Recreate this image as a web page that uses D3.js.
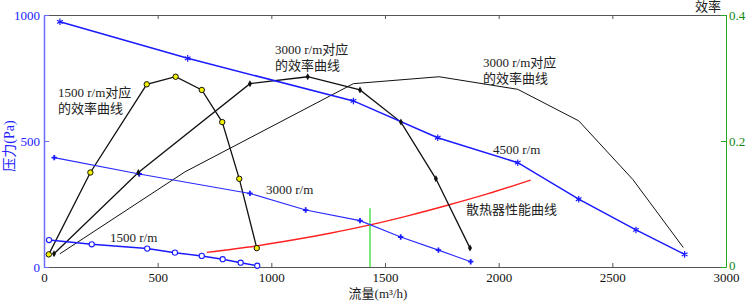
<!DOCTYPE html>
<html>
<head>
<meta charset="utf-8">
<script src="https://cdn.jsdelivr.net/npm/d3@7"></script>
<style>
  body { margin: 0; background: #fff; }
  text { font-family: "Liberation Serif", "Noto Sans CJK SC", serif; }
</style>
</head>
<body>
<div id="chart-area"></div>
<script>

// SVG Size
var width = 746,
    height = 302;

// Pressure curves (flow m3/h, pressure Pa)
var p4500 = [[70, 973], [632, 828], [1361, 659], [1732, 513], [2084, 414], [2352, 269], [2604, 147], [2818, 50]];
var p3000 = [[45, 434], [419, 369], [906, 292], [1151, 226], [1390, 184], [1569, 119], [1735, 67], [1877, 21]];
var p1500 = [[22, 107], [210, 90], [454, 73], [576, 57], [694, 44], [786, 31], [865, 17], [938, 5]];

// Efficiency curves (flow m3/h, efficiency)
var e1500 = [[21, 0.020], [204, 0.150], [452, 0.290], [579, 0.302], [694, 0.281], [784, 0.230], [859, 0.140], [936, 0.030]];
var e3000 = [[44, 0.021], [415, 0.150], [906, 0.291], [1160, 0.302], [1390, 0.281], [1570, 0.230], [1724, 0.140], [1874, 0.030]];
var e4500 = [[70, 0.021], [620, 0.151], [1361, 0.291], [1738, 0.302], [2084, 0.282], [2352, 0.232], [2590, 0.139], [2812, 0.031]];

// Heat sink resistance curve
var sink = [[716, 58], [936, 84], [1100, 108], [1258, 134], [1434, 167], [1600, 203], [1771, 244], [1950, 290], [2141, 345]];

// Operating point marker
var opFlow = 1434,
    opTop = 233;

var xTicks = [0, 500, 1000, 1500, 2000, 2500, 3000];
var yTicks = [0, 500, 1000];
var effTicks = [0, 0.2, 0.4];

var svg = d3.select("#chart-area").append("svg")
    .attr("width", width)
    .attr("height", height);

// Plot box
var mLeft = 44, mRight = 726, mTop = 15, mBottom = 267;

var x = d3.scaleLinear().domain([0, 3000]).range([mLeft, mRight]);
var y = d3.scaleLinear().domain([0, 1000]).range([mBottom, mTop]);
var yEff = d3.scaleLinear().domain([0, 0.4]).range([mBottom, mTop]);

// Frame: top line with inward ticks
svg.append("g")
    .attr("transform", "translate(0," + mTop + ")")
    .call(d3.axisTop(x).tickValues(xTicks).tickSizeInner(-4).tickSizeOuter(0).tickFormat(""))
    .call(function(g) { g.selectAll("line, path").attr("stroke", "#555"); });

// Bottom axis
svg.append("g")
    .attr("transform", "translate(0," + mBottom + ")")
    .call(d3.axisBottom(x).tickValues(xTicks).tickSizeInner(-4).tickSizeOuter(0).tickPadding(6)
      .tickFormat(d3.format("d")))
    .call(function(g) {
      g.selectAll("line, path").attr("stroke", "#555");
      g.selectAll("text").attr("font-size", 13).attr("fill", "#111")
        .attr("font-family", "Liberation Serif");
    });

// Left axis (pressure)
svg.append("g")
    .attr("transform", "translate(" + mLeft + ",0)")
    .call(d3.axisLeft(y).tickValues(yTicks).tickSizeInner(-5).tickSizeOuter(0).tickPadding(4)
      .tickFormat(d3.format("d")))
    .call(function(g) {
      g.select("path").attr("stroke", "#6b6bff").attr("stroke-width", 1.5);
      g.selectAll("line").attr("stroke", "#6b6bff");
      g.selectAll("text").attr("font-size", 13).attr("fill", "#2222ff")
        .attr("font-family", "Liberation Serif");
    });

// Right axis (efficiency)
svg.append("g")
    .attr("transform", "translate(" + mRight + ",0)")
    .call(d3.axisRight(yEff).tickValues(effTicks).tickSizeInner(-5).tickSizeOuter(0).tickPadding(3)
      .tickFormat(function(d){ return d === 0 ? "0" : d3.format(".1f")(d); }))
    .call(function(g) {
      g.selectAll("line, path").attr("stroke", "#22aa22");
      g.selectAll("text").attr("font-size", 13).attr("fill", "#118811")
        .attr("font-family", "Liberation Serif")
        .attr("dy", function(d){ return d === 0 ? "0.18em" : "0.32em"; });
    });

var pLine = d3.line().x(function(d){ return x(d[0]); }).y(function(d){ return y(d[1]); });
var eLine = d3.line().x(function(d){ return x(d[0]); }).y(function(d){ return yEff(d[1]); });
var sinkLine = d3.line().curve(d3.curveMonotoneX)
    .x(function(d){ return x(d[0]); }).y(function(d){ return y(d[1]); });

// Heat sink curve and operating line
svg.append("path").attr("d", sinkLine(sink))
    .attr("fill", "none").attr("stroke", "#ff2020").attr("stroke-width", 1.4);

svg.append("line")
    .attr("x1", x(opFlow)).attr("x2", x(opFlow))
    .attr("y1", y(0)).attr("y2", y(opTop))
    .attr("stroke", "#33dd33").attr("stroke-width", 1.3);

// Efficiency curves
svg.append("path").attr("d", eLine(e4500))
    .attr("fill", "none").attr("stroke", "#111").attr("stroke-width", 1);
svg.append("path").attr("d", eLine(e3000))
    .attr("fill", "none").attr("stroke", "#111").attr("stroke-width", 1.3);
svg.append("path").attr("d", eLine(e1500))
    .attr("fill", "none").attr("stroke", "#111").attr("stroke-width", 1.3);

// Pressure curves
svg.append("path").attr("d", pLine(p4500))
    .attr("fill", "none").attr("stroke", "#1a1aff").attr("stroke-width", 1.5);
svg.append("path").attr("d", pLine(p3000))
    .attr("fill", "none").attr("stroke", "#2a2aff").attr("stroke-width", 1.1);
svg.append("path").attr("d", pLine(p1500))
    .attr("fill", "none").attr("stroke", "#1a1aff").attr("stroke-width", 1.5);

// Markers
var star = d3.symbol().type(d3.symbolAsterisk).size(30);
var plus = d3.symbol().type(d3.symbolCross).size(16);
var diamond = d3.symbol().type(d3.symbolDiamond).size(14);

svg.selectAll(".m4500").data(p4500).enter().append("path")
    .attr("class", "m4500")
    .attr("d", star)
    .attr("transform", function(d){ return "translate(" + x(d[0]) + "," + y(d[1]) + ")"; })
    .attr("fill", "none").attr("stroke", "#1a1aff").attr("stroke-width", 1.2);

svg.selectAll(".m3000").data(p3000).enter().append("path")
    .attr("class", "m3000")
    .attr("d", plus)
    .attr("transform", function(d){ return "translate(" + x(d[0]) + "," + y(d[1]) + ")"; })
    .attr("fill", "#1a1aff");

svg.selectAll(".m1500").data(p1500).enter().append("circle")
    .attr("class", "m1500")
    .attr("cx", function(d){ return x(d[0]); })
    .attr("cy", function(d){ return y(d[1]); })
    .attr("r", 2.6)
    .attr("fill", "#fff").attr("stroke", "#1a1aff").attr("stroke-width", 1.1);

svg.selectAll(".me3000").data(e3000).enter().append("path")
    .attr("class", "me3000")
    .attr("d", diamond)
    .attr("transform", function(d){ return "translate(" + x(d[0]) + "," + yEff(d[1]) + ")"; })
    .attr("fill", "#111");

svg.selectAll(".me1500").data(e1500).enter().append("circle")
    .attr("class", "me1500")
    .attr("cx", function(d){ return x(d[0]); })
    .attr("cy", function(d){ return yEff(d[1]); })
    .attr("r", 2.7)
    .attr("fill", "#f2f200").attr("stroke", "#111").attr("stroke-width", 1);

// Annotations
function label(lines, px, py) {
  var t = svg.append("text")
      .attr("x", px).attr("y", py)
      .attr("font-size", 13).attr("fill", "#222");
  lines.forEach(function(s, i) {
    t.append("tspan").attr("x", px).attr("dy", i === 0 ? 0 : 16).text(s);
  });
}

label(["1500 r/m对应", "的效率曲线"], 58, 97);
label(["3000 r/m对应", "的效率曲线"], 275, 54);
label(["3000 r/m对应", "的效率曲线"], 483, 67);
label(["4500 r/m"], 493, 154);
label(["3000 r/m"], 266, 194);
label(["1500 r/m"], 110, 242);
label(["散热器性能曲线"], 466, 214);

// Axis titles
svg.append("text")
    .attr("transform", "translate(14," + 146 + ") rotate(-90)")
    .attr("text-anchor", "middle")
    .attr("font-size", 14).attr("fill", "#2222ff")
    .text("压力(Pa)");

svg.append("text")
    .attr("x", 378).attr("y", 298)
    .attr("text-anchor", "middle")
    .attr("font-size", 13).attr("fill", "#222")
    .text("流量(m³/h)");

svg.append("text")
    .attr("x", 721).attr("y", 11)
    .attr("text-anchor", "end")
    .attr("font-size", 13).attr("fill", "#222")
    .text("效率");

</script>
</body>
</html>
